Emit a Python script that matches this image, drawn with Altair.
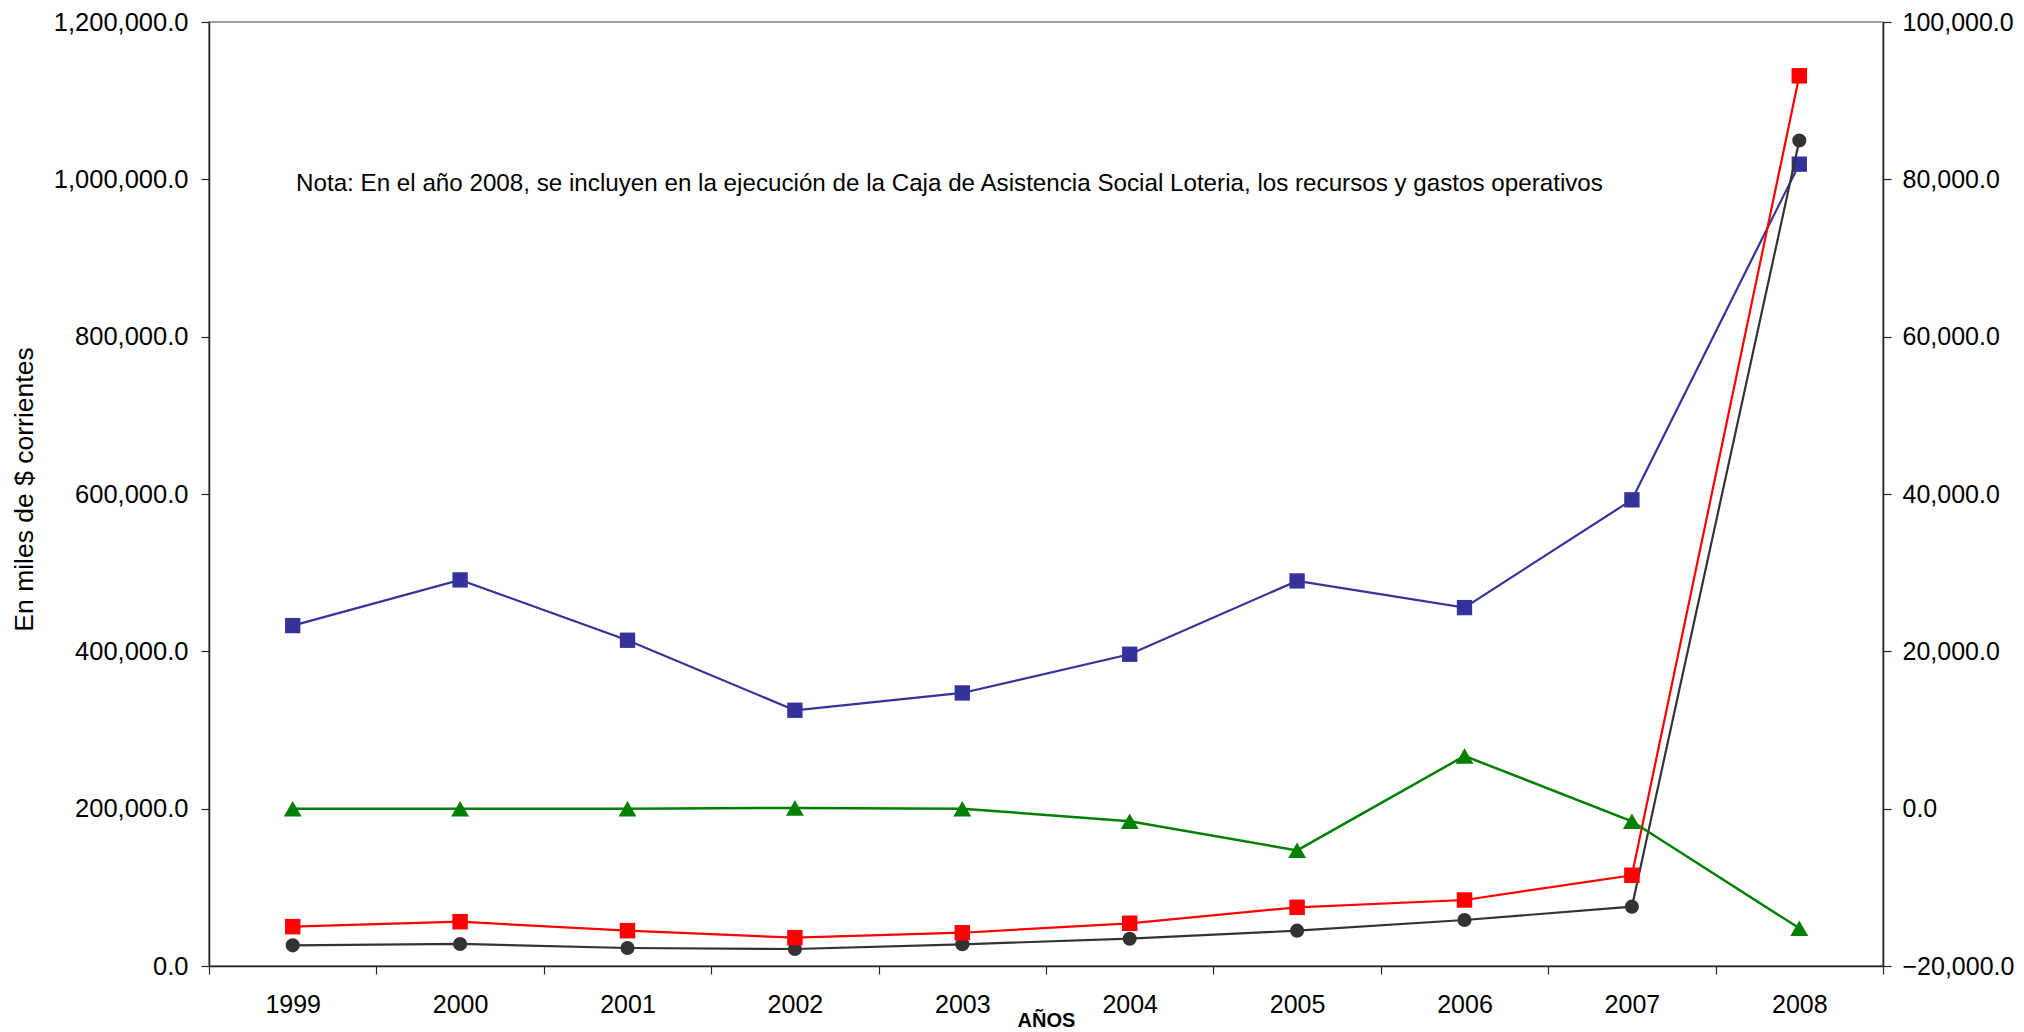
import altair as alt
import pandas as pd

# ---- data ----
anios = ["1999", "2000", "2001", "2002", "2003", "2004", "2005", "2006", "2007", "2008"]
serie_azul = [432700, 490800, 414100, 325100, 347100, 396300, 489500, 455600, 592600, 1019300]
serie_roja = [50000, 56300, 44900, 36000, 42300, 54300, 74600, 83900, 115300, 1131600]
serie_negra = [26300, 28000, 22900, 21600, 27600, 34700, 44900, 58500, 75400, 1049400]
serie_verde = [0, 0, 0, 100, 0, -1600, -5300, 6700, -1600, -15200]

ticks_izq = [0, 200000, 400000, 600000, 800000, 1000000, 1200000]
ticks_der = [-20000, 0, 20000, 40000, 60000, 80000, 100000]

nota = ("Nota: En el año 2008, se incluyen en la ejecución de la Caja de Asistencia "
        "Social Loteria, los recursos y gastos operativos")

FONT = "Liberation Sans"

x_enc = alt.X(
    "Año:O",
    sort=anios,
    bandPosition=0.5,
    scale=alt.Scale(type="band", paddingInner=0, paddingOuter=0),
    axis=alt.Axis(
        title="AÑOS",
        labelAngle=0,
        tickBand="extent",
        tickSize=8,
        labelPadding=18,
        labelFontSize=25,
        titleFontSize=20,
        titleFontWeight="bold",
        titleY=44,
        titleBaseline="top",
    ),
)

y_left = alt.Y(
    "Valor:Q",
    scale=alt.Scale(domain=[0, 1200000], nice=False, zero=False),
    axis=alt.Axis(
        values=ticks_izq,
        format=",.1f",
        title="En miles de $ corrientes",
        titleFontSize=26.5,
        titleFontWeight="normal",
        titleX=-177,
        titleY=467,
        titleAngle=-90,
        titleBaseline="alphabetic",
        titleAlign="center",
        labelFontSize=25.5,
        tickSize=8,
        labelPadding=13,
        grid=False,
    ),
)

series = [
    ("Serie azul", serie_azul, "#333399", "square", 235),
    ("Serie negra", serie_negra, "#333333", "circle", 200),
    ("Serie roja", serie_roja, "#FF0000", "square", 240),
]

left_layers = []
for nombre, valores, color, forma, tam in series:
    df = pd.DataFrame({"Año": anios, "Valor": valores, "Serie": nombre})
    base = alt.Chart(df).encode(x=x_enc, y=y_left)
    left_layers.append(base.mark_line(color=color, strokeWidth=2.2))
    left_layers.append(
        base.mark_point(shape=forma, size=tam, filled=True, color=color, opacity=1)
    )

nota_layer = alt.Chart(pd.DataFrame({"nota": [nota]})).mark_text(
    align="left", baseline="alphabetic", fontSize=24.2, font=FONT, color="black"
).encode(text="nota:N", x=alt.value(87), y=alt.value(169))
left_layers.append(nota_layer)

left = alt.layer(*left_layers)

df_v = pd.DataFrame({"Año": anios, "Valor": serie_verde, "Serie": "Serie verde"})
y_right = alt.Y(
    "Valor:Q",
    scale=alt.Scale(domain=[-20000, 100000], nice=False, zero=False),
    axis=alt.Axis(
        orient="right",
        values=ticks_der,
        format=",.1f",
        title="",
        labelFontSize=25,
        tickSize=8,
        labelPadding=11,
        grid=False,
    ),
)
base_v = alt.Chart(df_v).encode(x=x_enc, y=y_right)
right = alt.layer(
    base_v.mark_line(color="#008000", strokeWidth=2.5),
    base_v.mark_point(shape="triangle-up", size=320, filled=True, color="#008000", opacity=1),
)

chart = (
    alt.layer(left, right)
    .resolve_scale(y="independent")
    .properties(
        width=1674,
        height=944,
        padding={"left": 201, "top": 14, "right": 133, "bottom": 63},
        autosize=alt.AutoSizeParams(type="none"),
        background="white",
    )
    .configure_view(stroke="#808080", strokeWidth=1.5)
    .configure_axis(
        labelFont=FONT,
        titleFont=FONT,
        labelColor="black",
        titleColor="black",
        domainColor="#222222",
        domainWidth=1.5,
        tickColor="#222222",
        tickWidth=1.2,
    )
)

chart.save("out.html", embed_options={"renderer": "svg", "actions": False})
